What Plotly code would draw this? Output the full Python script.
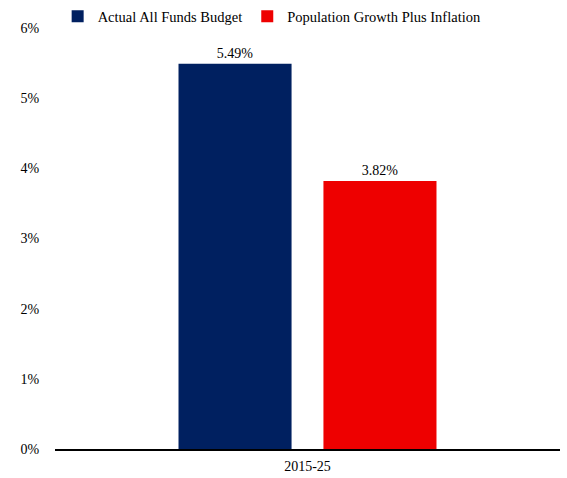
import plotly.graph_objects as go

categories = ["2015-25"]
series_names = ["Actual All Funds Budget", "Population Growth Plus Inflation"]
actual_budget = [5.49]
pop_growth_inflation = [3.82]
y_ticks = [0, 1, 2, 3, 4, 5, 6]
y_tick_labels = [f"{v}%" for v in y_ticks]

serif = "Times New Roman, Liberation Serif, DejaVu Serif, serif"

fig = go.Figure()
fig.add_trace(go.Bar(x=categories, y=actual_budget, name=series_names[0],
                     marker=dict(color="#002060", line=dict(width=0)),
                     text=[f"{v:.2f}%" for v in actual_budget], textposition="outside",
                     cliponaxis=False))
fig.add_trace(go.Bar(x=categories, y=pop_growth_inflation, name=series_names[1],
                     marker=dict(color="#EE0000", line=dict(width=0)),
                     text=[f"{v:.2f}%" for v in pop_growth_inflation], textposition="outside",
                     cliponaxis=False))

fig.update_layout(
    width=567, height=478,
    margin=dict(l=55, r=7, t=28, b=29, autoexpand=False),
    plot_bgcolor="white", paper_bgcolor="white",
    font=dict(family=serif, size=14, color="black"),
    barmode="group", bargap=0.426, bargroupgap=0.22,
    showlegend=True,
    legend=dict(orientation="h", x=0.43, xanchor="center", yref="container",
                y=0.966, yanchor="middle", itemwidth=30,
                font=dict(family=serif, size=14.5), traceorder="normal"),
)
fig.update_traces(textfont=dict(family=serif, size=14, color="black"))
fig.update_yaxes(range=[0, 6], tickvals=y_ticks, ticktext=y_tick_labels,
                 showgrid=False, zeroline=False, showline=False, automargin=False,
                 ticks="outside", ticklen=12, tickcolor="white",
                 tickfont=dict(family=serif, size=14))
fig.update_xaxes(showline=True, linecolor="black", linewidth=1.5, automargin=False,
                 showgrid=False, ticks="outside", ticklen=3, tickcolor="white",
                 tickfont=dict(family=serif, size=14))

fig.write_html("out.html", config={"displayModeBar": False},
               post_script="document.body.style.margin='0';")
